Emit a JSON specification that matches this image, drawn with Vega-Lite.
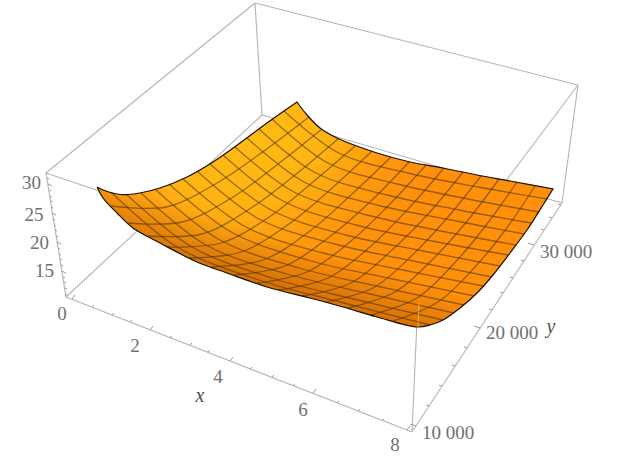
{"$schema":"https://vega.github.io/schema/vega-lite/v6.json","width":619,"height":472,"padding":0,"autosize":"none","background":"white","config":{"view":{"stroke":null}},
"datasets":{
"edges":[{"sx":46,"sy":173,"sx2":255,"sy2":3},{"sx":255,"sy":3,"sx2":578,"sy2":85},{"sx":578,"sy":85,"sx2":562,"sy2":203},{"sx":255,"sy":3,"sx2":262,"sy2":115},{"sx":262,"sy":115,"sx2":66,"sy2":297},{"sx":262,"sy":115,"sx2":562,"sy2":203},{"sx":46,"sy":173,"sx2":66,"sy2":297},{"sx":66,"sy":297,"sx2":412,"sy2":432},{"sx":412,"sy":432,"sx2":562,"sy2":203},{"sx":412,"sy":432,"sx2":418,"sy2":298},{"sx":46,"sy":173,"sx2":418,"sy2":298},{"sx":578,"sy":85,"sx2":418,"sy2":298}],
"front":[{"sx":418,"sy":327,"sx2":419,"sy2":303}],
"ticks":[{"sx":72,"sy":299,"sx2":75,"sy2":295},{"sx":92,"sy":307,"sx2":94,"sy2":305},{"sx":112,"sy":315,"sx2":114,"sy2":313},{"sx":130,"sy":322,"sx2":132,"sy2":320},{"sx":150,"sy":330,"sx2":153,"sy2":326},{"sx":170,"sy":338,"sx2":172,"sy2":336},{"sx":190,"sy":345,"sx2":192,"sy2":343},{"sx":208,"sy":352,"sx2":210,"sy2":350},{"sx":230,"sy":361,"sx2":233,"sy2":357},{"sx":250,"sy":369,"sx2":252,"sy2":367},{"sx":272,"sy":377,"sx2":274,"sy2":375},{"sx":293,"sy":386,"sx2":295,"sy2":384},{"sx":313,"sy":393,"sx2":316,"sy2":389},{"sx":337,"sy":403,"sx2":339,"sy2":401},{"sx":358,"sy":411,"sx2":360,"sy2":409},{"sx":382,"sy":421,"sx2":384,"sy2":419},{"sx":407,"sy":430,"sx2":410,"sy2":426},
{"sx":416,"sy":426,"sx2":410,"sy2":424},{"sx":429,"sy":406,"sx2":426,"sy2":405},{"sx":442,"sy":386,"sx2":439,"sy2":385},{"sx":455,"sy":366,"sx2":452,"sy2":365},{"sx":467,"sy":348,"sx2":464,"sy2":347},{"sx":480,"sy":328,"sx2":474,"sy2":326},{"sx":492,"sy":310,"sx2":489,"sy2":309},{"sx":503,"sy":293,"sx2":500,"sy2":292},{"sx":513,"sy":278,"sx2":510,"sy2":277},{"sx":524,"sy":261,"sx2":521,"sy2":260},{"sx":534,"sy":245,"sx2":528,"sy2":243},{"sx":544,"sy":230,"sx2":541,"sy2":229},{"sx":552,"sy":218,"sx2":549,"sy2":217},{"sx":561,"sy":205,"sx2":558,"sy2":204},
{"sx":47,"sy":178,"sx2":49,"sy2":179},{"sx":48,"sy":184,"sx2":52,"sy2":186},{"sx":49,"sy":190,"sx2":51,"sy2":191},{"sx":50,"sy":196,"sx2":52,"sy2":197},{"sx":51,"sy":201,"sx2":53,"sy2":202},{"sx":51,"sy":207,"sx2":53,"sy2":208},{"sx":52,"sy":213,"sx2":56,"sy2":215},{"sx":53,"sy":219,"sx2":55,"sy2":220},{"sx":54,"sy":225,"sx2":56,"sy2":226},{"sx":55,"sy":230,"sx2":57,"sy2":231},{"sx":56,"sy":236,"sx2":58,"sy2":237},{"sx":57,"sy":242,"sx2":61,"sy2":244},{"sx":58,"sy":248,"sx2":60,"sy2":249},{"sx":59,"sy":254,"sx2":61,"sy2":255},{"sx":60,"sy":259,"sx2":62,"sy2":260},{"sx":61,"sy":265,"sx2":63,"sy2":266},{"sx":62,"sy":271,"sx2":66,"sy2":273},{"sx":63,"sy":277,"sx2":65,"sy2":278},{"sx":64,"sy":282,"sx2":66,"sy2":283},{"sx":65,"sy":288,"sx2":67,"sy2":289},{"sx":65,"sy":294,"sx2":67,"sy2":295}],
"outline":[{"o":0,"sx":97,"sy":187},{"o":1,"sx":103,"sy":190},{"o":2,"sx":117,"sy":194},{"o":3,"sx":128,"sy":194.5},{"o":4,"sx":140,"sy":193},{"o":5,"sx":160,"sy":188},{"o":6,"sx":187,"sy":177},{"o":7,"sx":213,"sy":162},{"o":8,"sx":240,"sy":143},{"o":9,"sx":267,"sy":123},{"o":10,"sx":297,"sy":102},{"o":10.5,"sx":297,"sy":102},{"o":11,"sx":307,"sy":115},{"o":12,"sx":320,"sy":128},{"o":13,"sx":337,"sy":138},{"o":15,"sx":377,"sy":153},{"o":16,"sx":410,"sy":162},{"o":17,"sx":443,"sy":168},{"o":18,"sx":477,"sy":175},{"o":19,"sx":510,"sy":181},{"o":20,"sx":553,"sy":189},{"o":20.5,"sx":553,"sy":189},{"o":21,"sx":543,"sy":205},{"o":22,"sx":527,"sy":230},{"o":23,"sx":510,"sy":253},{"o":24,"sx":493,"sy":275},{"o":25,"sx":477,"sy":293},{"o":26,"sx":460,"sy":308},{"o":27,"sx":443,"sy":320},{"o":28,"sx":430,"sy":325},{"o":29,"sx":417,"sy":327},{"o":30,"sx":377,"sy":317},{"o":31,"sx":343,"sy":307},{"o":32,"sx":310,"sy":298},{"o":33,"sx":267,"sy":287},{"o":34,"sx":227,"sy":273},{"o":35,"sx":197,"sy":262},{"o":36,"sx":160,"sy":243},{"o":37,"sx":133,"sy":228},{"o":38,"sx":117,"sy":213},{"o":39,"sx":103,"sy":198},{"o":40,"sx":97,"sy":187}],
"mesh":[
{"l":"a1","o":0,"sx":111,"sy":206},{"l":"a1","o":1,"sx":166,"sy":207},{"l":"a1","o":2,"sx":217,"sy":183},{"l":"a1","o":3,"sx":264,"sy":151},{"l":"a1","o":4,"sx":309,"sy":117},
{"l":"a2","o":0,"sx":128,"sy":223},{"l":"a2","o":1,"sx":182,"sy":222},{"l":"a2","o":2,"sx":233,"sy":197},{"l":"a2","o":3,"sx":278,"sy":164},{"l":"a2","o":4,"sx":322,"sy":129},
{"l":"a3","o":0,"sx":148,"sy":236},{"l":"a3","o":1,"sx":202,"sy":234},{"l":"a3","o":2,"sx":251,"sy":208},{"l":"a3","o":3,"sx":295,"sy":175},{"l":"a3","o":4,"sx":338,"sy":139},
{"l":"a4","o":0,"sx":168,"sy":247},{"l":"a4","o":1,"sx":221,"sy":243},{"l":"a4","o":2,"sx":270,"sy":216.5},{"l":"a4","o":3,"sx":313,"sy":182},{"l":"a4","o":4,"sx":355,"sy":146},
{"l":"a5","o":0,"sx":189,"sy":258},{"l":"a5","o":1,"sx":241,"sy":252},{"l":"a5","o":2,"sx":289,"sy":224},{"l":"a5","o":3,"sx":331,"sy":189},{"l":"a5","o":4,"sx":372,"sy":151},
{"l":"a6","o":0,"sx":211,"sy":267},{"l":"a6","o":1,"sx":263,"sy":260},{"l":"a6","o":2,"sx":310,"sy":231},{"l":"a6","o":3,"sx":351,"sy":195},{"l":"a6","o":4,"sx":391,"sy":157},
{"l":"a7","o":0,"sx":234,"sy":275},{"l":"a7","o":1,"sx":285,"sy":266},{"l":"a7","o":2,"sx":330,"sy":236.5},{"l":"a7","o":3,"sx":371,"sy":201},{"l":"a7","o":4,"sx":409,"sy":162},
{"l":"a8","o":0,"sx":257,"sy":283},{"l":"a8","o":1,"sx":307,"sy":272},{"l":"a8","o":2,"sx":351,"sy":241},{"l":"a8","o":3,"sx":389,"sy":205},{"l":"a8","o":4,"sx":426,"sy":165},
{"l":"a9","o":0,"sx":279,"sy":290},{"l":"a9","o":1,"sx":328,"sy":278},{"l":"a9","o":2,"sx":371,"sy":246},{"l":"a9","o":3,"sx":409,"sy":208},{"l":"a9","o":4,"sx":444,"sy":168},
{"l":"a10","o":0,"sx":302,"sy":296},{"l":"a10","o":1,"sx":351,"sy":283},{"l":"a10","o":2,"sx":392,"sy":250},{"l":"a10","o":3,"sx":429,"sy":213},{"l":"a10","o":4,"sx":463,"sy":172},
{"l":"a11","o":0,"sx":326,"sy":302},{"l":"a11","o":1,"sx":373,"sy":288},{"l":"a11","o":2,"sx":413,"sy":254.5},{"l":"a11","o":3,"sx":448,"sy":217},{"l":"a11","o":4,"sx":481,"sy":176},
{"l":"a12","o":0,"sx":348,"sy":308},{"l":"a12","o":1,"sx":395,"sy":292},{"l":"a12","o":2,"sx":434,"sy":258},{"l":"a12","o":3,"sx":468,"sy":220},{"l":"a12","o":4,"sx":499,"sy":179},
{"l":"a13","o":0,"sx":371,"sy":315},{"l":"a13","o":1,"sx":417,"sy":298},{"l":"a13","o":2,"sx":454.5,"sy":263},{"l":"a13","o":3,"sx":487,"sy":224},{"l":"a13","o":4,"sx":517,"sy":182},
{"l":"a14","o":0,"sx":393,"sy":321},{"l":"a14","o":1,"sx":438,"sy":302},{"l":"a14","o":2,"sx":475,"sy":267},{"l":"a14","o":3,"sx":506,"sy":229},{"l":"a14","o":4,"sx":535,"sy":186},
{"l":"b1","o":0,"sx":111,"sy":192},{"l":"b1","o":1,"sx":177,"sy":247},{"l":"b1","o":2,"sx":259,"sy":280},{"l":"b1","o":3,"sx":344,"sy":303},{"l":"b1","o":4,"sx":430,"sy":325},
{"l":"b2","o":0,"sx":126,"sy":194},{"l":"b2","o":1,"sx":192,"sy":247},{"l":"b2","o":2,"sx":273.5,"sy":278.5},{"l":"b2","o":3,"sx":358,"sy":300},{"l":"b2","o":4,"sx":443,"sy":320},
{"l":"b3","o":0,"sx":141,"sy":193},{"l":"b3","o":1,"sx":206,"sy":245},{"l":"b3","o":2,"sx":287,"sy":274},{"l":"b3","o":3,"sx":370,"sy":294},{"l":"b3","o":4,"sx":454,"sy":313},
{"l":"b4","o":0,"sx":155,"sy":189},{"l":"b4","o":1,"sx":219,"sy":239.5},{"l":"b4","o":2,"sx":299,"sy":268},{"l":"b4","o":3,"sx":381,"sy":287},{"l":"b4","o":4,"sx":464,"sy":305},
{"l":"b5","o":0,"sx":169,"sy":184},{"l":"b5","o":1,"sx":233,"sy":233},{"l":"b5","o":2,"sx":311,"sy":261},{"l":"b5","o":3,"sx":393,"sy":279},{"l":"b5","o":4,"sx":474,"sy":296},
{"l":"b6","o":0,"sx":183,"sy":179},{"l":"b6","o":1,"sx":246,"sy":227},{"l":"b6","o":2,"sx":323,"sy":253},{"l":"b6","o":3,"sx":403,"sy":270},{"l":"b6","o":4,"sx":483,"sy":286},
{"l":"b7","o":0,"sx":197,"sy":171},{"l":"b7","o":1,"sx":259,"sy":219},{"l":"b7","o":2,"sx":335,"sy":244},{"l":"b7","o":3,"sx":413,"sy":261},{"l":"b7","o":4,"sx":492,"sy":277},
{"l":"b8","o":0,"sx":210,"sy":164},{"l":"b8","o":1,"sx":271,"sy":210},{"l":"b8","o":2,"sx":346,"sy":235},{"l":"b8","o":3,"sx":423,"sy":251},{"l":"b8","o":4,"sx":500,"sy":266},
{"l":"b9","o":0,"sx":223,"sy":155},{"l":"b9","o":1,"sx":283,"sy":201},{"l":"b9","o":2,"sx":356,"sy":225},{"l":"b9","o":3,"sx":432,"sy":241},{"l":"b9","o":4,"sx":508,"sy":255},
{"l":"b10","o":0,"sx":235,"sy":147},{"l":"b10","o":1,"sx":294,"sy":192},{"l":"b10","o":2,"sx":367,"sy":215},{"l":"b10","o":3,"sx":441,"sy":231},{"l":"b10","o":4,"sx":516,"sy":245},
{"l":"b11","o":0,"sx":247,"sy":138},{"l":"b11","o":1,"sx":305,"sy":182.5},{"l":"b11","o":2,"sx":377,"sy":205},{"l":"b11","o":3,"sx":451,"sy":220},{"l":"b11","o":4,"sx":524,"sy":234},
{"l":"b12","o":0,"sx":259,"sy":129},{"l":"b12","o":1,"sx":316,"sy":173},{"l":"b12","o":2,"sx":387,"sy":195},{"l":"b12","o":3,"sx":459,"sy":210},{"l":"b12","o":4,"sx":531,"sy":223},
{"l":"b13","o":0,"sx":272,"sy":119},{"l":"b13","o":1,"sx":328,"sy":163},{"l":"b13","o":2,"sx":397.5,"sy":184},{"l":"b13","o":3,"sx":468,"sy":199},{"l":"b13","o":4,"sx":539,"sy":212},
{"l":"b14","o":0,"sx":284,"sy":111},{"l":"b14","o":1,"sx":339,"sy":153},{"l":"b14","o":2,"sx":408,"sy":173},{"l":"b14","o":3,"sx":478,"sy":187},{"l":"b14","o":4,"sx":547,"sy":199}],
"labels":[{"t":"0","sx":62,"sy":314},{"t":"2","sx":135,"sy":346},{"t":"4","sx":218,"sy":377},{"t":"6","sx":303,"sy":410},{"t":"8","sx":395,"sy":445},{"t":"10 000","sx":448,"sy":433},{"t":"20 000","sx":512,"sy":333},{"t":"30 000","sx":566,"sy":252},{"t":"30","sx":31.5,"sy":183},{"t":"25","sx":34,"sy":215},{"t":"20","sx":39.5,"sy":243},{"t":"15","sx":44.5,"sy":271}],
"titles":[{"t":"x","sx":200,"sy":396},{"t":"y","sx":551,"sy":327}]
},
"encoding":{"x":{"field":"sx","type":"quantitative","scale":{"domain":[0,619],"nice":false,"zero":false},"axis":null},"y":{"field":"sy","type":"quantitative","scale":{"domain":[0,472],"reverse":true,"nice":false,"zero":false},"axis":null}},
"layer":[
{"data":{"name":"edges"},"mark":{"type":"rule","stroke":"#b4b4b4","strokeWidth":1.1},"encoding":{"x2":{"field":"sx2"},"y2":{"field":"sy2"}}},
{"data":{"name":"ticks"},"mark":{"type":"rule","stroke":"#9a9a9a","strokeWidth":1},"encoding":{"x2":{"field":"sx2"},"y2":{"field":"sy2"}}},
{"data":{"name":"outline"},"mark":{"type":"line","interpolate":"catmull-rom","fill":"#ff900c","stroke":null},"encoding":{"order":{"field":"o","type":"quantitative"}}},
{"data":{"name":"outline"},"mark":{"type":"line","interpolate":"catmull-rom","stroke":null,"fill":{"gradient":"radial","x1":0.3,"y1":0.25,"r1":0,"x2":0.3,"y2":0.25,"r2":0.46,"stops":[{"offset":0,"color":"rgba(255,192,20,1)"},{"offset":0.5,"color":"rgba(255,185,20,0.85)"},{"offset":1,"color":"rgba(255,150,12,0)"}]}},"encoding":{"order":{"field":"o","type":"quantitative"}}},
{"data":{"name":"outline"},"mark":{"type":"line","interpolate":"catmull-rom","stroke":null,"fill":{"gradient":"linear","x1":0.55,"y1":0.7,"x2":0.445,"y2":0.86,"stops":[{"offset":0,"color":"rgba(170,80,0,0)"},{"offset":1,"color":"rgba(170,80,0,0.5)"}]}},"encoding":{"order":{"field":"o","type":"quantitative"}}},
{"data":{"name":"mesh"},"mark":{"type":"line","interpolate":"catmull-rom","stroke":"#4a3000","strokeOpacity":0.55,"strokeWidth":1.3},"encoding":{"detail":{"field":"l"},"order":{"field":"o","type":"quantitative"}}},
{"data":{"name":"outline"},"mark":{"type":"line","interpolate":"catmull-rom","stroke":"#1a1000","strokeWidth":1.2},"encoding":{"order":{"field":"o","type":"quantitative"}}},
{"data":{"name":"front"},"mark":{"type":"rule","stroke":"#ffd9a0","strokeOpacity":0.5,"strokeWidth":1},"encoding":{"x2":{"field":"sx2"},"y2":{"field":"sy2"}}},
{"data":{"name":"labels"},"mark":{"type":"text","font":"Liberation Serif","fontSize":19,"fill":"#707070","align":"center","baseline":"middle"},"encoding":{"text":{"field":"t"}}},
{"data":{"name":"titles"},"mark":{"type":"text","font":"Liberation Serif","fontStyle":"italic","fontSize":20,"fill":"#505050","align":"center","baseline":"middle"},"encoding":{"text":{"field":"t"}}}
]}
